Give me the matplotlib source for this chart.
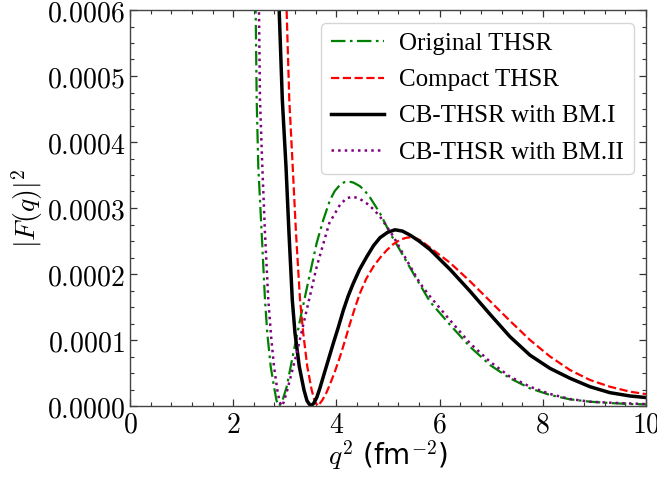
import matplotlib
matplotlib.use("Agg")
import matplotlib.pyplot as plt
from matplotlib.ticker import AutoMinorLocator, FuncFormatter

plt.rcParams['mathtext.fontset'] = 'cm'

# ---- data ----
x_orig = [2.38, 2.436, 2.455, 2.486, 2.552, 2.616, 2.661, 2.727, 2.791, 2.84, 2.89, 2.95, 3.037, 3.165,
          3.308, 3.475, 3.618, 3.75, 3.876, 3.97, 4.07, 4.15, 4.25, 4.33, 4.457, 4.55, 4.651, 4.845, 5.039,
          5.233, 5.490, 5.814, 6.202, 6.589, 6.977, 7.364, 7.752, 8.140, 8.527, 8.915, 9.302, 9.690, 10.0]
y_orig = [0.00080, 0.000595, 0.000464, 0.000363, 0.000262, 0.000161, 0.000110, 0.0000596, 0.0000292,
          0.0000080, 0.0, 0.0000070, 0.0000292, 0.0000799, 0.000135, 0.000196, 0.000247, 0.000283, 0.000312,
          0.000326, 0.000335, 0.000339, 0.000340, 0.0003385, 0.000333, 0.000326, 0.000316, 0.000292, 0.000262,
          0.000236, 0.000201, 0.000158, 0.000123, 0.0000898, 0.0000621, 0.0000420, 0.0000268, 0.0000167,
          0.0000101, 0.0000065, 0.0000045, 0.0000030, 0.0000025]

x_bm2 = [2.45, 2.50, 2.519, 2.564, 2.616, 2.680, 2.735, 2.791, 2.855, 2.90, 2.94, 2.98, 3.048, 3.231, 3.411,
         3.618, 3.862, 4.07, 4.20, 4.327, 4.45, 4.587, 4.72, 4.845, 5.103, 5.362, 5.620, 5.814, 6.202, 6.589,
         6.977, 7.364, 7.752, 8.140, 8.527, 8.915, 9.302, 9.690, 10.0]
y_bm2 = [0.00080, 0.000595, 0.000464, 0.000363, 0.000262, 0.000161, 0.000105, 0.0000596, 0.0000242,
         0.0000060, 0.0, 0.0000060, 0.0000242, 0.0000799, 0.000141, 0.000211, 0.000277, 0.000305, 0.000315,
         0.000317, 0.000314, 0.000307, 0.000298, 0.000287, 0.000257, 0.000221, 0.000186, 0.000166, 0.000130,
         0.0000950, 0.0000671, 0.0000444, 0.0000292, 0.0000182, 0.0000106, 0.0000065, 0.0000050,
         0.0000038, 0.0000030]

x_bm1 = [2.85, 2.893, 2.952, 3.023, 3.081, 3.145, 3.198, 3.281, 3.372, 3.43, 3.50, 3.56, 3.62, 3.68, 3.746,
         3.84, 3.94, 4.04, 4.134, 4.23, 4.328, 4.45, 4.587, 4.72, 4.845, 4.99, 5.136, 5.28, 5.426, 5.60,
         5.814, 6.202, 6.589, 6.977, 7.364, 7.752, 8.140, 8.527, 8.915, 9.302, 9.690, 10.0]
y_bm1 = [0.00080, 0.000595, 0.000464, 0.000363, 0.000262, 0.000161, 0.000110, 0.0000596, 0.0000242,
         0.0000080, 0.0, 0.0000040, 0.0000130, 0.0000270, 0.0000444, 0.0000690, 0.0000950, 0.000120,
         0.000145, 0.000167, 0.000186, 0.000207, 0.000226, 0.000243, 0.000255, 0.000263, 0.000267, 0.000265,
         0.000259, 0.000250, 0.000237, 0.000207, 0.000174, 0.000139, 0.000105, 0.0000770, 0.0000570,
         0.0000420, 0.0000292, 0.0000202, 0.0000152, 0.0000128]

x_cmp = [3.00, 3.037, 3.087, 3.153, 3.217, 3.295, 3.358, 3.436, 3.521, 3.58, 3.64, 3.72, 3.80, 3.876, 3.97,
         4.07, 4.17, 4.264, 4.36, 4.457, 4.58, 4.715, 4.85, 4.975, 5.10, 5.233, 5.36, 5.490, 5.65, 5.814,
         6.202, 6.589, 6.977, 7.364, 7.752, 8.140, 8.527, 8.915, 9.302, 9.690, 10.0]
y_cmp = [0.00080, 0.000595, 0.000464, 0.000363, 0.000262, 0.000161, 0.000110, 0.0000596, 0.0000242,
         0.0000070, 0.0, 0.0000080, 0.0000190, 0.0000330, 0.0000520, 0.0000747, 0.0001000, 0.000125,
         0.000149, 0.000171, 0.000193, 0.000211, 0.000225, 0.000236, 0.000245, 0.000252, 0.000255, 0.000256,
         0.000250, 0.000240, 0.000217, 0.000189, 0.000159, 0.000129, 0.000100, 0.0000750, 0.0000545,
         0.0000394, 0.0000292, 0.0000217, 0.0000180]

labels = ["Original THSR", "Compact THSR", "CB-THSR with BM.I", "CB-THSR with BM.II"]
x_ticks = [0, 2, 4, 6, 8, 10]
y_ticks = [0.0000, 0.0001, 0.0002, 0.0003, 0.0004, 0.0005, 0.0006]

fig = plt.figure(figsize=(6.57, 4.80), dpi=100)
ax = fig.add_axes([130 / 657, 74 / 480, 516 / 657, 396 / 480])

ax.plot(x_orig, y_orig, color='green', linestyle='-.', dashes=(6.5, 2.0, 1.2, 2.0),
        linewidth=1.6, label=labels[0])
ax.plot(x_cmp, y_cmp, color='red', linestyle='--', linewidth=1.6, label=labels[1])
ax.plot(x_bm1, y_bm1, color='black', linestyle='-', linewidth=2.5, label=labels[2])
ax.plot(x_bm2, y_bm2, color='purple', linestyle=':', linewidth=1.8, label=labels[3])

ax.set_xlim(0, 10)
ax.set_ylim(0, 0.0006)
ax.set_xticks(x_ticks)
ax.set_yticks(y_ticks)
ax.xaxis.set_minor_locator(AutoMinorLocator(5))
ax.yaxis.set_minor_locator(AutoMinorLocator(4))
ax.xaxis.set_major_formatter(FuncFormatter(lambda v, p: r'$%d$' % round(v)))
ax.yaxis.set_major_formatter(FuncFormatter(lambda v, p: r'$%.4f$' % v))
ax.tick_params(which='both', direction='in', top=True, right=True, labelsize=20, color='#333333')
ax.tick_params(which='major', length=5, width=0.9)
ax.tick_params(which='minor', length=3, width=0.8)
for s in ax.spines.values():
    s.set_color('#444444')
    s.set_linewidth(1.0)

ax.set_xlabel(r'$q^2$ (fm$^{-2}$)', fontsize=20, family='DejaVu Sans', labelpad=0)
ax.set_ylabel(r'$|F(q)|^2$', fontsize=20, labelpad=1)

leg = ax.legend(loc='upper right', prop={'family': 'Liberation Serif', 'size': 18},
                labelspacing=0.55, handlelength=2.1, handletextpad=0.6, borderaxespad=0.5)

fig.savefig('out.png', dpi=100)
